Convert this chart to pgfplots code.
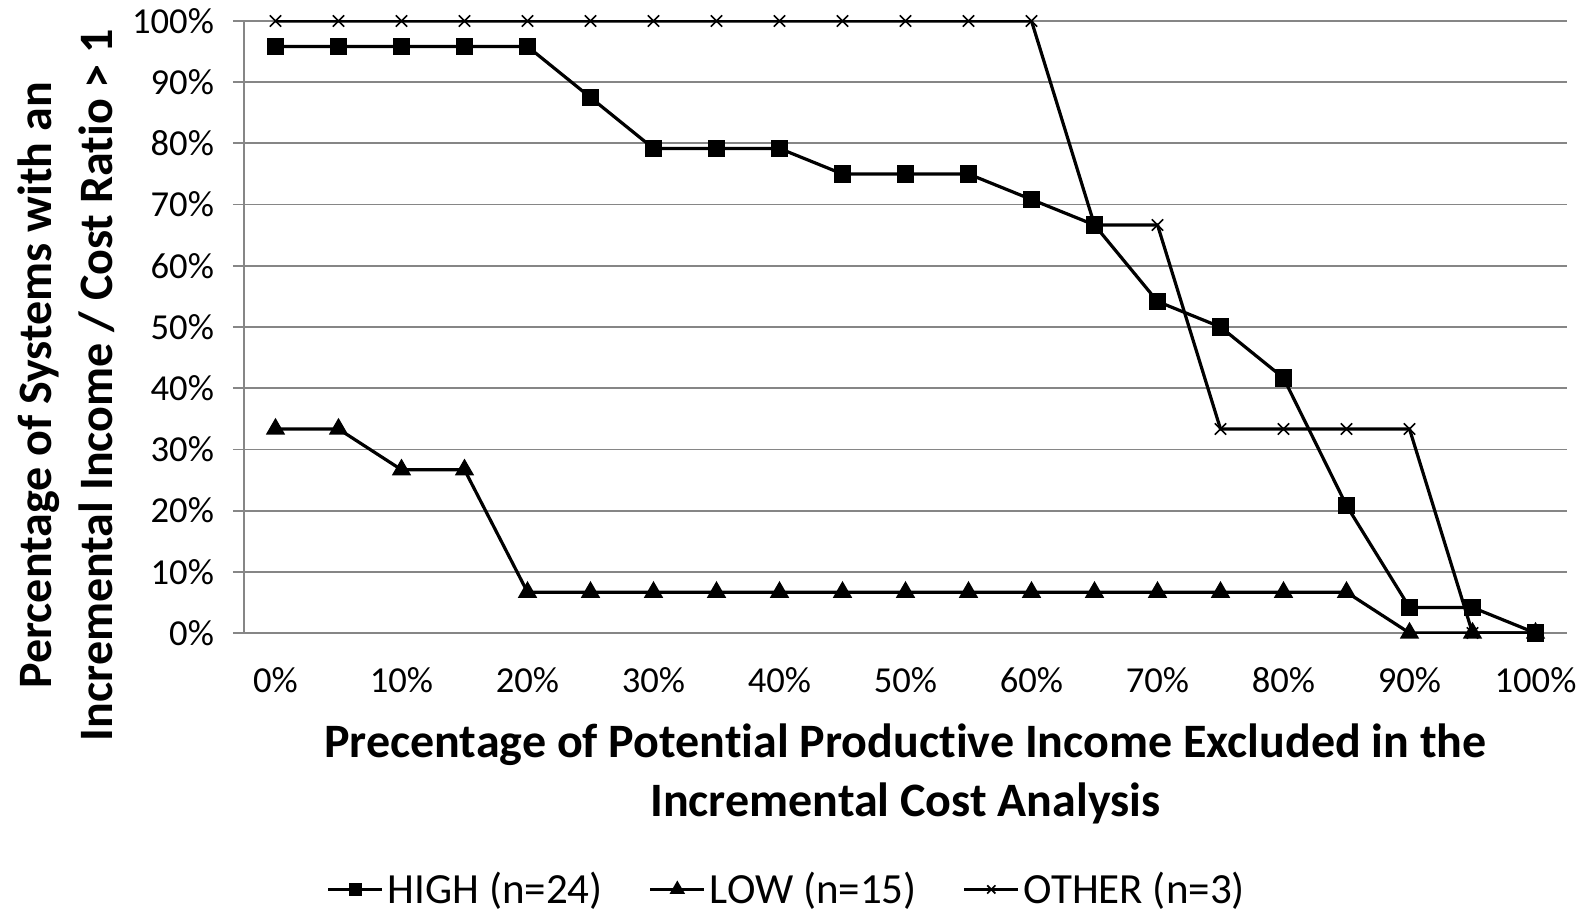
\documentclass[border=0pt]{standalone}
\usepackage{pgfplots}
\pgfplotsset{compat=1.18}
\usepackage{fontspec}
\setmainfont{Carlito}[Ligatures=NoCommon]
\definecolor{gridgray}{HTML}{868686}
\begin{document}
\begin{tikzpicture}
\useasboundingbox (-244*0.5pt,-282*0.5pt) rectangle (1350*0.5pt,633*0.5pt);
\begin{axis}[
  scale only axis,
  width=661.5pt, height=306pt,
  xmin=-2.5, xmax=102.5, ymin=0, ymax=100,
  xtick={0,10,...,100}, ytick={0,10,...,100},
  xticklabel={\pgfmathprintnumber{\tick}\%},
  yticklabel={\pgfmathprintnumber{\tick}\%},
  /pgf/number format/assume math mode=true,
  ticklabel style={font=\fontsize{18.3}{21}\selectfont},
  xtick style={draw=none},
  ytick style={draw=gridgray, line width=0.9pt},
  tick align=outside, major tick length=5.5pt,
  axis x line*=bottom, axis y line*=left,
  axis line style={draw=gridgray, line width=0.9pt, -},
  ymajorgrids, grid style={draw=gridgray, line width=0.9pt},
  yticklabel style={xshift=-6pt},
  xticklabel style={yshift=-8pt},
  xlabel={Precentage of Potential Productive Income Excluded in the\\Incremental Cost Analysis},
  xlabel style={font=\bfseries\fontsize{24}{29.5}\selectfont, align=center, at={(axis description cs:0.5,-0.23)}, anchor=center},
  ylabel={Percentage of Systems with an\\Incremental Income / Cost Ratio > 1},
  ylabel style={font=\bfseries\fontsize{24}{30.5}\selectfont, align=center, at={(axis description cs:-0.1345,0.405)}, anchor=center, rotate=0},
  legend columns=3,
  legend style={draw=none, fill=none, font=\fontsize{21.5}{25}\selectfont, at={(axis description cs:0.411,-0.419)}, anchor=center, /tikz/every even column/.append style={column sep=21pt}},
  legend image code/.code={\draw[#1, mark=none] (0pt,0pt) -- (27pt,0pt); \draw[#1, every mark/.append style={scale=0.72}] plot coordinates {(13.5pt,0pt)};},
  every axis plot/.append style={black, line width=1.6pt},
]
\addplot[mark=square*, mark size=3.5pt, mark options={solid}] coordinates {
(0,95.83) (5,95.83) (10,95.83) (15,95.83) (20,95.83) (25,87.5) (30,79.17) (35,79.17) (40,79.17) (45,75) (50,75) (55,75) (60,70.83) (65,66.67) (70,54.17) (75,50) (80,41.67) (85,20.83) (90,4.17) (95,4.17) (100,0)};
\addlegendentry{HIGH (n=24)}
\addplot[mark=triangle*, mark size=4pt] coordinates {
(0,33.33) (5,33.33) (10,26.67) (15,26.67) (20,6.67) (25,6.67) (30,6.67) (35,6.67) (40,6.67) (45,6.67) (50,6.67) (55,6.67) (60,6.67) (65,6.67) (70,6.67) (75,6.67) (80,6.67) (85,6.67) (90,0) (95,0) (100,0)};
\addlegendentry{LOW (n=15)}
\addplot[mark=x, mark size=4pt, mark options={line width=0.8pt}] coordinates {
(0,100) (5,100) (10,100) (15,100) (20,100) (25,100) (30,100) (35,100) (40,100) (45,100) (50,100) (55,100) (60,100) (65,66.67) (70,66.67) (75,33.33) (80,33.33) (85,33.33) (90,33.33) (95,0) (100,0)};
\addlegendentry{OTHER (n=3)}
\end{axis}
\end{tikzpicture}
\end{document}
